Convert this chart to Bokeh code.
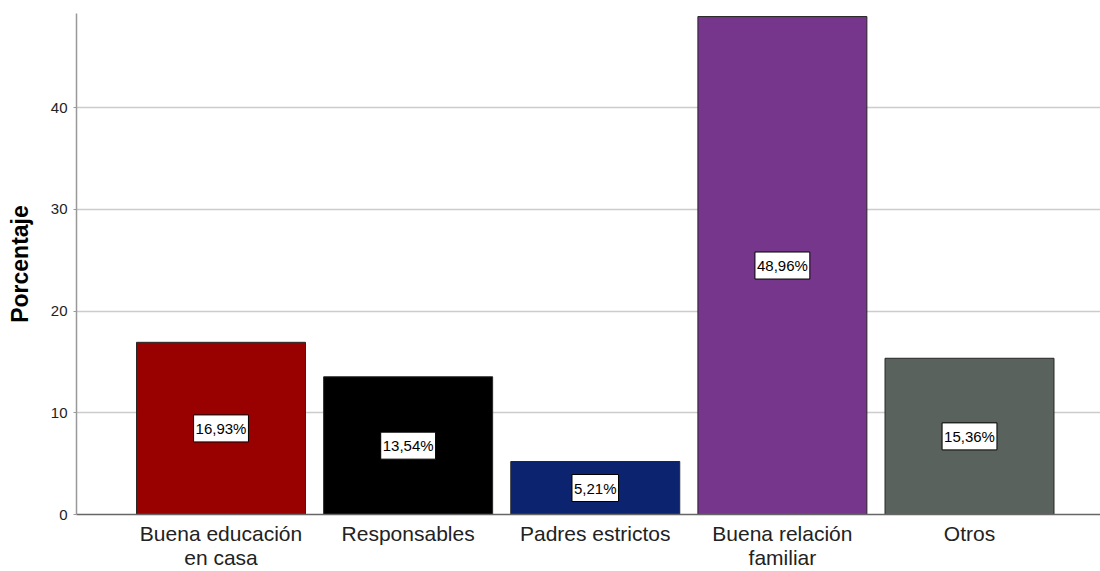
from bokeh.plotting import figure
from bokeh.models import ColumnDataSource, Label, FixedTicker, Range1d
from bokeh.embed import file_html
from bokeh.resources import INLINE

categories = ["Buena educación\nen casa", "Responsables", "Padres estrictos",
              "Buena relación\nfamiliar", "Otros"]
values = [16.93, 13.54, 5.21, 48.96, 15.36]
labels = ["16,93%", "13,54%", "5,21%", "48,96%", "15,36%"]
colors = ["#990000", "#000000", "#0c2470", "#76368b", "#5a625d"]
y_ticks = [0, 10, 20, 30, 40, 50]

xs = list(range(1, len(categories) + 1))
src = ColumnDataSource(dict(x=xs, top=values, color=colors))

p = figure(width=1100, height=571, output_backend="svg", toolbar_location=None,
           x_range=Range1d(0.2277, 5.70), y_range=Range1d(0, 49.26),
           min_border_left=76, min_border_right=0, min_border_top=13,
           min_border_bottom=57)
p.outline_line_color = None
p.background_fill_color = "white"
p.border_fill_color = "white"

p.vbar(x="x", top="top", width=0.903, source=src, fill_color="color",
       line_color="#262626", line_width=1)

for x, v, lab in zip(xs, values, labels):
    p.add_layout(Label(x=x, y=v / 2, text=lab,
                       text_align="center", text_baseline="middle",
                       text_font="Liberation Sans", text_font_size="15px",
                       text_color="black", background_fill_color="white",
                       border_line_color="black", border_line_width=1,
                       padding=(2, 5)))

p.xgrid.grid_line_color = None
p.ygrid.grid_line_color = "#cccccc"
p.ygrid.grid_line_width = 1.5
p.ygrid.ticker = FixedTicker(ticks=y_ticks)

p.yaxis.ticker = FixedTicker(ticks=y_ticks)
p.yaxis.axis_label = "Porcentaje"
p.yaxis.axis_label_text_font = "Liberation Sans"
p.yaxis.axis_label_text_font_style = "bold"
p.yaxis.axis_label_text_font_size = "23px"
p.yaxis.axis_label_text_color = "black"
p.yaxis.axis_label_standoff = 15
p.yaxis.major_label_text_font = "Liberation Sans"
p.yaxis.major_label_text_font_size = "15px"
p.yaxis.major_label_text_color = "#222222"
p.yaxis.major_label_standoff = 6
p.yaxis.axis_line_color = "#999999"
p.yaxis.axis_line_width = 1.5
p.yaxis.major_tick_line_color = "#999999"
p.yaxis.major_tick_out = 3
p.yaxis.major_tick_in = 0
p.yaxis.minor_tick_line_color = None

p.xaxis.ticker = FixedTicker(ticks=xs)
p.xaxis.major_label_overrides = {x: c for x, c in zip(xs, categories)}
p.xaxis.major_label_text_font = "Liberation Sans"
p.xaxis.major_label_text_font_size = "21px"
p.xaxis.major_label_text_color = "#222222"
p.xaxis.major_label_text_line_height = 1.05
p.xaxis.major_label_standoff = 7
p.xaxis.axis_line_color = "#666666"
p.xaxis.axis_line_width = 1.5
p.xaxis.major_tick_line_color = None
p.xaxis.major_tick_out = 0
p.xaxis.minor_tick_line_color = None

open("out.html", "w").write(file_html(p, INLINE))
